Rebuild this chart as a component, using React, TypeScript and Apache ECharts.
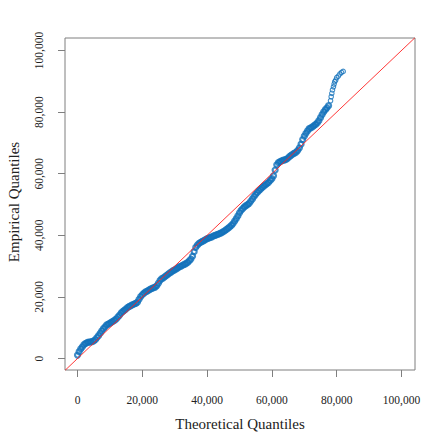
import React, { useEffect, useRef } from "react";
import * as echarts from "echarts";

// Theoretical quantiles
const theoretical: number[] = [
  0, 500, 1000, 1500, 2000, 2500, 3000, 3500, 4000, 4500, 5000, 5500, 6000, 6500, 7000, 7500, 8000, 8500, 9000, 9500,
  10000, 10500, 11000, 11500, 12000, 12500, 13000, 13500, 14000, 14500, 15000, 15500, 16000, 16500, 17000, 17500, 18000, 18500, 19000, 19500,
  20000, 20500, 21000, 21500, 22000, 22500, 23000, 23500, 24000, 24500, 25000, 25500, 26000, 26500, 27000, 27500, 28000, 28500, 29000, 29500,
  30000, 30500, 31000, 31500, 32000, 32500, 33000, 33500, 34000, 34500, 35000, 35500, 36000, 36500, 37000, 37500, 38000, 38500, 39000, 39500,
  40000, 40500, 41000, 41500, 42000, 42500, 43000, 43500, 44000, 44500, 45000, 45500, 46000, 46500, 47000, 47500, 48000, 48500, 49000, 49500,
  50000, 50500, 51000, 51500, 52000, 52500, 53000, 53500, 54000, 54500, 55000, 55500, 56000, 56500, 57000, 57500, 58000, 58500, 59000, 59500,
  60000, 60500, 61000, 61500, 62000, 62500, 63000, 63500, 64000, 64500, 65000, 65500, 66000, 66500, 67000, 67500, 68000, 68500, 69000, 69500,
  70000, 70500, 71000, 71500, 72000, 72500, 73000, 73500, 74000, 74500, 75000, 75500, 76000, 76500, 77000, 77500,
];

// Empirical quantiles matching the theoretical values above
const empirical: number[] = [
  1100, 2200, 3100, 3800, 4500, 4900, 5200, 5300, 5400, 5500, 5700, 6100, 6800, 7400, 8200, 9000, 9700, 10300, 10900, 11200,
  11500, 11800, 12100, 12500, 12900, 13500, 14100, 14800, 15300, 15700, 16100, 16600, 16900, 17200, 17500, 17700, 17900, 18300, 19200, 20100,
  20700, 21200, 21600, 21900, 22200, 22500, 22800, 23000, 23200, 23700, 24500, 25400, 25900, 26200, 26600, 27000, 27400, 27800, 28100, 28500,
  28800, 29100, 29400, 29800, 30000, 30300, 30600, 30800, 31200, 31700, 32300, 33200, 34700, 36100, 36800, 37400, 37700, 38000, 38300, 38600,
  38900, 39100, 39300, 39500, 39800, 40000, 40200, 40400, 40600, 40900, 41200, 41500, 41900, 42300, 42700, 43200, 43800, 44600, 45400, 46300,
  47300, 48100, 48700, 49200, 49600, 50000, 50400, 51100, 51800, 52600, 53300, 53900, 54500, 55000, 55500, 56000, 56400, 56800, 57200, 57800,
  58400, 59300, 61200, 62900, 63600, 63900, 64200, 64400, 64500, 64700, 65100, 65600, 66000, 66400, 66700, 67000, 67600, 68400, 69600, 71100,
  72200, 73100, 73900, 74600, 74900, 75200, 75600, 76000, 76500, 77200, 78200, 79200, 80100, 80800, 81400, 82100,
];

// Sparse upper tail (distinct open circles)
const tailTheoretical: number[] = [78100, 78300, 78500, 78700, 79000, 79200, 79400, 79700, 80000, 80500, 81000, 81500, 82000];
const tailEmpirical: number[] = [83700, 85000, 86100, 87200, 88200, 89100, 89900, 90400, 91200, 91700, 92400, 92900, 93200];

const tickValues: number[] = [0, 20000, 40000, 60000, 80000, 100000];
const xRange: number[] = [-3860, 104170];
const yRange: number[] = [-3730, 104060];

const FONT = "'Liberation Serif', 'DejaVu Serif', serif";
const GRAY = "#7f7f7f";
const BLUE = "#1270ba";

export default function App() {
  const ref = useRef<HTMLDivElement>(null);

  useEffect(() => {
    if (!ref.current) return;
    const chart = echarts.init(ref.current, undefined, { renderer: "svg" });
    const pts = theoretical.map((t, i) => [t, empirical[i]]);
    const tail = tailTheoretical.map((t, i) => [t, tailEmpirical[i]]);
    const fmt = (v: number) => v.toLocaleString("en-US");

    chart.setOption({
      animation: false,
      backgroundColor: "#ffffff",
      grid: {
        left: 65,
        top: 38,
        right: 21,
        bottom: 66,
        show: true,
        borderColor: GRAY,
        borderWidth: 1,
        backgroundColor: "transparent",
      },
      xAxis: {
        type: "value",
        min: xRange[0],
        max: xRange[1],
        axisLine: { show: false, onZero: false },
        splitLine: { show: false },
        axisTick: {
          show: true,
          length: 7,
          inside: false,
          customValues: tickValues,
          lineStyle: { color: GRAY, width: 1 },
        },
        axisLabel: {
          customValues: tickValues,
          formatter: fmt,
          margin: 24,
          fontFamily: FONT,
          fontSize: 11.5,
          color: "#222",
        },
      },
      yAxis: {
        type: "value",
        min: yRange[0],
        max: yRange[1],
        axisLine: { show: false, onZero: false },
        splitLine: { show: false },
        axisTick: {
          show: true,
          length: 7,
          inside: false,
          customValues: tickValues,
          lineStyle: { color: GRAY, width: 1 },
        },
        axisLabel: {
          customValues: tickValues,
          formatter: fmt,
          rotate: 90,
          margin: 20,
          fontFamily: FONT,
          fontSize: 11.5,
          color: "#222",
        },
      },
      graphic: [
        {
          type: "text",
          x: 240,
          y: 424,
          style: {
            text: "Theoretical Quantiles",
            fontFamily: FONT,
            fontSize: 15,
            fill: "#222",
            align: "center",
            verticalAlign: "middle",
          },
        },
        {
          type: "text",
          x: 14,
          y: 202,
          rotation: Math.PI / 2,
          style: {
            text: "Empirical Quantiles",
            fontFamily: FONT,
            fontSize: 15,
            fill: "#222",
            align: "center",
            verticalAlign: "middle",
          },
        },
      ],
      series: [
        {
          type: "scatter",
          data: pts,
          symbol: "circle",
          symbolSize: 5,
          itemStyle: {
            color: "rgba(0,0,0,0)",
            borderColor: BLUE,
            borderWidth: 2.2,
          },
          z: 2,
        },
        {
          type: "scatter",
          data: tail,
          symbol: "circle",
          symbolSize: 4.5,
          itemStyle: {
            color: "rgba(0,0,0,0)",
            borderColor: BLUE,
            borderWidth: 1.1,
          },
          z: 2,
        },
        {
          type: "line",
          data: [
            [xRange[0], xRange[0]],
            [xRange[1], xRange[1]],
          ],
          symbol: "none",
          clip: true,
          lineStyle: { color: "#ff2020", width: 0.9 },
          silent: true,
          z: 3,
        },
      ],
    });

    return () => chart.dispose();
  }, []);

  return (
    <div
      ref={ref}
      style={{ position: "fixed", left: 0, top: 0, width: 436, height: 436 }}
    />
  );
}
